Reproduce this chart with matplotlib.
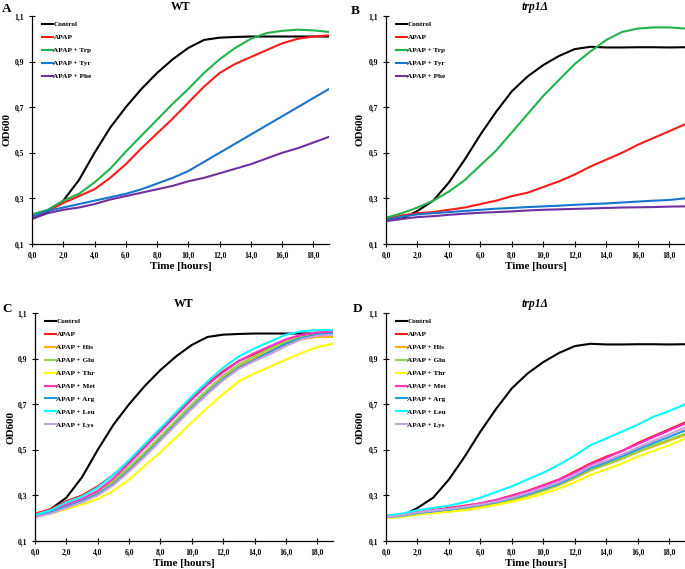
import numpy as np
import matplotlib
matplotlib.use("Agg")
import matplotlib.pyplot as plt

plt.rcParams['font.family'] = ['Liberation Serif', 'DejaVu Serif']
plt.rcParams['font.weight'] = 'bold'

# --- data (OD600, read hourly from 0 to 19 h) ---
hours = np.arange(0, 20)

# WT, aromatic amino acids
wt_control = [0.21, 0.24, 0.29, 0.38, 0.50, 0.61, 0.70, 0.78, 0.85, 0.91, 0.96, 0.995, 1.005,
              1.008, 1.01, 1.01, 1.01, 1.01, 1.01, 1.01]
wt_apap = [0.22, 0.245, 0.28, 0.31, 0.34, 0.39, 0.45, 0.52, 0.585, 0.65, 0.72, 0.79, 0.85,
           0.89, 0.92, 0.95, 0.98, 1.0, 1.01, 1.015]
wt_trp = [0.23, 0.25, 0.29, 0.32, 0.37, 0.43, 0.505, 0.575, 0.645, 0.715, 0.78, 0.85, 0.91,
          0.96, 1.0, 1.025, 1.035, 1.04, 1.037, 1.03]
wt_tyr = [0.22, 0.245, 0.26, 0.275, 0.29, 0.305, 0.32, 0.34, 0.365, 0.39, 0.42, 0.46, 0.50,
          0.54, 0.58, 0.62, 0.66, 0.70, 0.74, 0.78]
wt_phe = [0.21, 0.235, 0.25, 0.26, 0.275, 0.295, 0.31, 0.325, 0.34, 0.355, 0.375, 0.39, 0.41,
          0.43, 0.45, 0.475, 0.50, 0.52, 0.545, 0.57]

# trp1 deletion, aromatic amino acids
trp_control = [0.205, 0.21, 0.245, 0.29, 0.37, 0.47, 0.58, 0.68, 0.77, 0.835, 0.885, 0.925,
               0.955, 0.965, 0.962, 0.962, 0.963, 0.963, 0.962, 0.963]
trp_apap = [0.21, 0.225, 0.235, 0.24, 0.25, 0.26, 0.275, 0.29, 0.31, 0.325, 0.35, 0.375, 0.405,
            0.44, 0.47, 0.50, 0.535, 0.565, 0.595, 0.625]
trp_trp = [0.215, 0.235, 0.26, 0.29, 0.33, 0.38, 0.445, 0.51, 0.59, 0.67, 0.75, 0.82, 0.89,
           0.945, 0.995, 1.03, 1.045, 1.05, 1.05, 1.045]
trp_tyr = [0.205, 0.22, 0.23, 0.235, 0.24, 0.245, 0.25, 0.255, 0.258, 0.262, 0.265, 0.268,
           0.272, 0.275, 0.278, 0.282, 0.286, 0.29, 0.293, 0.30]
trp_phe = [0.20, 0.21, 0.218, 0.222, 0.228, 0.233, 0.237, 0.24, 0.243, 0.247, 0.25, 0.252,
           0.254, 0.256, 0.258, 0.26, 0.261, 0.262, 0.264, 0.265]

# WT, other amino acids
wtc_apap = [0.22, 0.24, 0.275, 0.30, 0.34, 0.39, 0.45, 0.52, 0.59, 0.655, 0.725, 0.79, 0.845,
            0.89, 0.92, 0.95, 0.975, 1.0, 1.01, 1.02]
wtc_his = [0.21, 0.225, 0.25, 0.275, 0.31, 0.355, 0.415, 0.48, 0.55, 0.62, 0.69, 0.755, 0.815,
           0.865, 0.90, 0.935, 0.965, 0.985, 0.995, 0.995]
wtc_glu = [0.21, 0.23, 0.255, 0.28, 0.315, 0.365, 0.425, 0.49, 0.56, 0.63, 0.70, 0.765, 0.825,
           0.875, 0.91, 0.945, 0.975, 0.995, 1.005, 1.01]
wtc_thr = [0.205, 0.22, 0.24, 0.26, 0.285, 0.32, 0.37, 0.43, 0.49, 0.555, 0.62, 0.685, 0.745,
           0.80, 0.835, 0.865, 0.895, 0.925, 0.95, 0.965]
wtc_met = [0.215, 0.235, 0.26, 0.285, 0.32, 0.375, 0.44, 0.51, 0.58, 0.65, 0.72, 0.785, 0.84,
           0.89, 0.925, 0.955, 0.985, 1.005, 1.015, 1.02]
wtc_arg = [0.21, 0.225, 0.25, 0.275, 0.305, 0.35, 0.41, 0.475, 0.545, 0.615, 0.685, 0.75, 0.81,
           0.86, 0.895, 0.93, 0.965, 0.99, 1.005, 1.01]
wtc_leu = [0.215, 0.235, 0.27, 0.295, 0.335, 0.39, 0.455, 0.525, 0.595, 0.665, 0.735, 0.80,
           0.86, 0.91, 0.945, 0.975, 1.005, 1.02, 1.025, 1.025]
wtc_lys = [0.205, 0.22, 0.245, 0.27, 0.30, 0.345, 0.405, 0.47, 0.54, 0.61, 0.68, 0.745, 0.805,
           0.855, 0.89, 0.92, 0.955, 0.985, 1.0, 1.005]

# trp1 deletion, other amino acids
trd_apap = [0.21, 0.215, 0.225, 0.235, 0.245, 0.255, 0.265, 0.28, 0.30, 0.32, 0.345, 0.37,
            0.405, 0.44, 0.47, 0.495, 0.53, 0.56, 0.59, 0.62]
trd_his = [0.205, 0.21, 0.22, 0.228, 0.235, 0.243, 0.252, 0.265, 0.28, 0.298, 0.32, 0.345,
           0.375, 0.41, 0.435, 0.46, 0.49, 0.515, 0.54, 0.565]
trd_glu = [0.205, 0.21, 0.22, 0.23, 0.237, 0.245, 0.255, 0.268, 0.283, 0.30, 0.322, 0.347,
           0.378, 0.412, 0.437, 0.463, 0.493, 0.52, 0.545, 0.57]
trd_thr = [0.20, 0.205, 0.215, 0.222, 0.228, 0.235, 0.245, 0.258, 0.272, 0.288, 0.308, 0.33,
           0.358, 0.39, 0.415, 0.44, 0.47, 0.495, 0.52, 0.55]
trd_met = [0.21, 0.215, 0.225, 0.235, 0.243, 0.253, 0.265, 0.28, 0.298, 0.318, 0.342, 0.368,
           0.40, 0.435, 0.465, 0.495, 0.525, 0.555, 0.585, 0.615]
trd_arg = [0.205, 0.21, 0.222, 0.23, 0.238, 0.247, 0.258, 0.27, 0.287, 0.305, 0.328, 0.352,
           0.385, 0.42, 0.445, 0.472, 0.502, 0.53, 0.557, 0.585]
trd_leu = [0.21, 0.22, 0.235, 0.245, 0.255, 0.27, 0.29, 0.315, 0.34, 0.37, 0.40, 0.435, 0.475,
           0.52, 0.55, 0.58, 0.61, 0.645, 0.67, 0.70]
trd_lys = [0.205, 0.212, 0.225, 0.233, 0.24, 0.25, 0.26, 0.273, 0.29, 0.31, 0.333, 0.358,
           0.39, 0.428, 0.452, 0.48, 0.51, 0.54, 0.568, 0.598]

labels_top = ['Control', 'APAP', 'APAP + Trp', 'APAP + Tyr', 'APAP + Phe']
colors_top = ['black', '#ff1a1a', '#22b24c', '#1874cd', '#7030a0']
labels_bot = ['Control', 'APAP', 'APAP + His', 'APAP + Glu', 'APAP + Thr', 'APAP + Met',
              'APAP + Arg', 'APAP + Leu', 'APAP + Lys']
colors_bot = ['black', '#ff1a1a', '#ffb000', '#92d050', '#ffff00', '#ff33cc', '#1f9be0',
              '#00ffff', '#c8a0dc']

x_ticks = np.arange(0, 19, 2)
y_ticks = np.arange(0.1, 1.11, 0.2)

# letter, title, series, labels, colours, axes box (l, t, r, b in px), letter pos, ylabel x (px)
panels = [
    ('A', 'WT', [wt_control, wt_apap, wt_trp, wt_tyr, wt_phe], labels_top, colors_top,
     (32, 16, 329, 244), (2, 9), 7),
    ('B', 'trp1Δ', [trp_control, trp_apap, trp_trp, trp_tyr, trp_phe], labels_top, colors_top,
     (386, 16, 685, 244), (351, 11), 360),
    ('C', 'WT', [wt_control, wtc_apap, wtc_his, wtc_glu, wtc_thr, wtc_met, wtc_arg, wtc_leu,
                 wtc_lys], labels_bot, colors_bot, (35, 313, 333, 541), (2, 309), 11),
    ('D', 'trp1Δ', [trp_control, trd_apap, trd_his, trd_glu, trd_thr, trd_met, trd_arg,
                    trd_leu, trd_lys], labels_bot, colors_bot, (386, 313, 685, 541), (353, 309), 360),
]

W, H = 685, 569
fig = plt.figure(figsize=(W / 100, H / 100), dpi=100)

for letter, title, series, labels, colors, box, lpos, ylab_x in panels:
    l, t, r, b = box
    ax = fig.add_axes([l / W, (H - b) / H, (r - l) / W, (b - t) / H])
    for y, lab, c in zip(series, labels, colors):
        ax.plot(hours, y, color=c, lw=1.5, label=lab)
    ax.set_xlim(0, 19)
    ax.set_ylim(0.1, 1.1)
    ax.set_xticks(x_ticks)
    ax.set_xticklabels([f"{v:.1f}".replace('.', ',') for v in x_ticks])
    ax.set_yticks(y_ticks)
    ax.set_yticklabels([f"{v:.1f}".replace('.', ',') for v in y_ticks])
    ax.tick_params(direction='inout', length=5, width=0.8, labelsize=5.5, pad=3)
    for s in ['top', 'right']:
        ax.spines[s].set_visible(False)
    for s in ['left', 'bottom']:
        ax.spines[s].set_linewidth(0.9)
    ax.set_xlabel('Time [hours]', fontsize=8, fontweight='bold', va='center')
    ax.xaxis.set_label_coords(0.5, -22.5 / (b - t))
    ax.set_ylabel('OD600', fontsize=8, fontweight='bold', va='center')
    ax.yaxis.set_label_coords((ylab_x - l) / (r - l), 0.5)
    ax.set_title(title, fontsize=8.5, fontweight='bold',
                 fontstyle='italic' if title != 'WT' else 'normal', pad=4)
    ax.legend(loc='upper left', bbox_to_anchor=(0.015, 1.0), frameon=False, fontsize=5.2,
              handlelength=1.5, handletextpad=0.1, labelspacing=0.95, borderpad=0.25)
    fig.text(lpos[0] / W, 1 - lpos[1] / H, letter, fontsize=9.5, fontweight='bold',
             va='center', ha='left')

fig.savefig('out.png', dpi=100)
